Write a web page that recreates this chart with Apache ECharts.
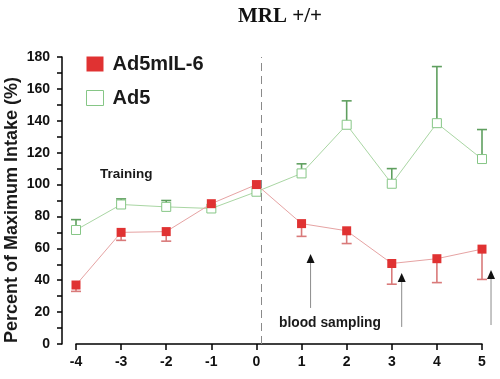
<!DOCTYPE html>
<html>
<head>
<meta charset="utf-8">
<script src="https://cdn.jsdelivr.net/npm/echarts@6/dist/echarts.min.js"></script>
<style>html,body{margin:0;padding:0;background:#fff}#c{width:500px;height:379px}</style>
</head>
<body>
<div id="c"></div>
<script>
// ---- data ----
const days = [-4, -3, -2, -1, 0, 1, 2, 3, 4, 5];
const ad5mil6 = [37, 70, 70.5, 88, 100, 75.5, 71, 50.5, 53.5, 59.5];
const ad5mil6Err = [4, 5, 6, 0, 0, 8, 8, 13, 15, 19];      // lower error
const ad5 = [71.5, 87.5, 86, 85, 95.5, 107, 137.5, 100.5, 138.5, 116];
const ad5Err = [6.5, 3.5, 4, 0, 0, 6, 15, 9.5, 35.5, 18.5]; // upper error
const yTicks = [0, 20, 40, 60, 80, 100, 120, 140, 160, 180];
const dividerX = 0.1;
// blood sampling arrows: [x, from, to]
const arrowsData = [[1.2, 22.6, 54.6], [3.22, 10.7, 42.7], [5.2, 11.9, 44.5]];

const RED = '#e03232', RED_LINE = '#e6a3a3', RED_ERR = '#d97a7a';
const GREEN = '#86c686', GREEN_LINE = '#a9d6a3', GREEN_ERR = '#5f9f5f';
const FONT = 'Liberation Sans, Arial, sans-serif';

function errItem(color, capAtLow) {
  return function (params, api) {
    const x = api.value(0), lo = api.value(1), hi = api.value(2);
    if (hi === lo) return null;
    const a = api.coord([x, lo]), b = api.coord([x, hi]);
    const capY = capAtLow ? a[1] : b[1];
    return {
      type: 'group',
      children: [
        {type: 'line', shape: {x1: a[0], y1: a[1], x2: b[0], y2: b[1]}, style: {stroke: color, lineWidth: 1.6}},
        {type: 'line', shape: {x1: a[0] - 5, y1: capY, x2: a[0] + 5, y2: capY}, style: {stroke: color, lineWidth: 1.6}}
      ]
    };
  };
}

const redErrData = days.map((d, i) => [d, ad5mil6[i] - ad5mil6Err[i], ad5mil6[i]]);
const greenErrData = days.map((d, i) => [d, ad5[i], ad5[i] + ad5Err[i]]);

const chart = echarts.init(document.getElementById('c'), null, {renderer: 'canvas'});
chart.setOption({
  animation: false,
  backgroundColor: '#fff',
  title: {
    text: 'MRL +/+', left: 275, top: 1, textAlign: 'center',
    textStyle: {fontFamily: 'Liberation Serif, Times New Roman, serif', fontSize: 21, fontWeight: 'bold', color: '#111'}
  },
  legend: {
    orient: 'vertical', left: 81, top: 49, itemWidth: 17, itemHeight: 15, itemGap: 14,
    textStyle: {fontFamily: FONT, fontSize: 20, fontWeight: 'bold', color: '#1a1a1a', padding: [0, 0, 0, 4]},
    data: [
      {name: 'Ad5mIL-6', icon: 'rect', itemStyle: {color: RED, borderWidth: 0}},
      {name: 'Ad5', icon: 'rect', itemStyle: {color: '#fff', borderColor: GREEN, borderWidth: 1}}
    ]
  },
  grid: {left: 76, right: 18, top: 57, bottom: 35},
  xAxis: {
    type: 'value', min: -4, max: 5, interval: 1,
    axisLine: {onZero: false, lineStyle: {color: '#000', width: 1.5}},
    axisTick: {length: 6, lineStyle: {color: '#000', width: 1.5}},
    axisLabel: {margin: 11, fontFamily: FONT, fontSize: 14, fontWeight: 'bold', color: '#111'},
    splitLine: {show: false}
  },
  yAxis: {
    type: 'value', min: yTicks[0], max: yTicks[yTicks.length - 1], interval: 20, offset: 14,
    axisLine: {show: true, onZero: false, lineStyle: {color: '#000', width: 1.5}},
    axisTick: {show: true, length: 5, lineStyle: {color: '#000', width: 1.5}},
    minorTick: {show: true, splitNumber: 2, length: 5, lineStyle: {color: '#000', width: 1.5}},
    axisLabel: {margin: 12, fontFamily: FONT, fontSize: 14, fontWeight: 'bold', color: '#111'},
    splitLine: {show: false}
  },
  series: [
    {
      name: 'Ad5', type: 'line', data: days.map((d, i) => [d, ad5[i]]),
      symbol: 'rect', symbolSize: 9, z: 3,
      lineStyle: {color: GREEN_LINE, width: 1},
      itemStyle: {color: '#fff', borderColor: GREEN, borderWidth: 1},
      markLine: {
        silent: true, symbol: 'none', label: {show: false},
        lineStyle: {color: '#8a8a8a', type: [8, 5], width: 1},
        data: [{xAxis: dividerX}]
      }
    },
    {type: 'custom', name: 'ad5err', data: greenErrData, renderItem: errItem(GREEN_ERR, false), z: 2},
    {
      name: 'Ad5mIL-6', type: 'line', data: days.map((d, i) => [d, ad5mil6[i]]),
      symbol: 'rect', symbolSize: 9, z: 5,
      lineStyle: {color: RED_LINE, width: 1},
      itemStyle: {color: RED, borderWidth: 0}
    },
    {type: 'custom', name: 'ilerr', data: redErrData, renderItem: errItem(RED_ERR, true), z: 4},
    {
      type: 'custom', name: 'arrows', data: arrowsData, clip: false, z: 6,
      renderItem: function (params, api) {
        const a = api.coord([api.value(0), api.value(1)]);
        const b = api.coord([api.value(0), api.value(2)]);
        return {
          type: 'group',
          children: [
            {type: 'line', shape: {x1: a[0], y1: a[1], x2: b[0], y2: b[1] + 6}, style: {stroke: '#8c8c8c', lineWidth: 1}},
            {type: 'polygon', shape: {points: [[b[0], b[1] - 3], [b[0] - 4, b[1] + 6], [b[0] + 4, b[1] + 6]]}, style: {fill: '#111'}}
          ]
        };
      }
    }
  ],
  graphic: [
    {type: 'text', left: 100, top: 167, style: {text: 'Training', font: 'bold 13.5px ' + FONT, fill: '#1a1a1a'}},
    {type: 'text', left: 279, top: 316, style: {text: 'blood sampling', font: 'bold 13.8px ' + FONT, fill: '#1a1a1a'}},
    {type: 'text', x: 12, y: 210, rotation: Math.PI / 2,
      style: {text: 'Percent of Maximum Intake (%)', font: 'bold 18px ' + FONT, fill: '#1a1a1a', align: 'center', verticalAlign: 'middle'}}
  ]
});
</script>
</body>
</html>
